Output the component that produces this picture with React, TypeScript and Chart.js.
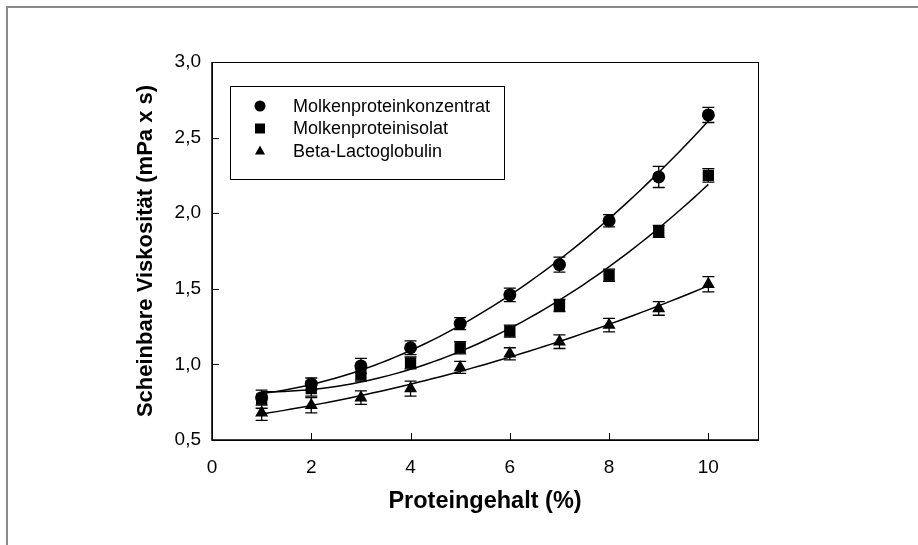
import React, { useEffect, useRef } from "react";
import { Chart, registerables } from "chart.js";

Chart.register(...registerables);

const xValues = [1, 2, 3, 4, 5, 6, 7, 8, 9, 10];
const wpcValues = [0.78, 0.87, 0.99, 1.11, 1.27, 1.46, 1.66, 1.95, 2.24, 2.65];
const wpcErrors = [0.05, 0.04, 0.05, 0.045, 0.04, 0.045, 0.05, 0.04, 0.07, 0.05];
const wpiValues = [0.77, 0.84, 0.93, 1.01, 1.11, 1.22, 1.39, 1.59, 1.88, 2.25];
const wpiErrors = [0.06, 0.05, 0.04, 0.04, 0.04, 0.04, 0.04, 0.04, 0.04, 0.045];
const blgValues = [0.68, 0.73, 0.78, 0.84, 0.98, 1.07, 1.15, 1.26, 1.37, 1.53];
const blgErrors = [0.05, 0.05, 0.045, 0.05, 0.04, 0.04, 0.045, 0.045, 0.045, 0.05];

const seriesNames = ["Molkenproteinkonzentrat", "Molkenproteinisolat", "Beta-Lactoglobulin"];
const seriesStyles = ["circle", "rect", "triangle"];

const xTickValues = [0, 2, 4, 6, 8, 10];
const xTickLabels = ["0", "2", "4", "6", "8", "10"];
const yTickValues = [0.5, 1.0, 1.5, 2.0, 2.5, 3.0];
const yTickLabels = ["0,5", "1,0", "1,5", "2,0", "2,5", "3,0"];

const xTitle = "Proteingehalt (%)";
const yTitle = "Scheinbare Viskosität (mPa x s)";

const FONT = "'Liberation Sans', Arial, sans-serif";

// least-squares quadratic regression of the measured points
function quadFit(xs: number[], ys: number[]) {
  let s0 = 0, s1 = 0, s2 = 0, s3 = 0, s4 = 0, t0 = 0, t1 = 0, t2 = 0;
  for (let i = 0; i < xs.length; i++) {
    const x = xs[i], y = ys[i];
    s0 += 1; s1 += x; s2 += x * x; s3 += x * x * x; s4 += x * x * x * x;
    t0 += y; t1 += x * y; t2 += x * x * y;
  }
  const M = [
    [s0, s1, s2, t0],
    [s1, s2, s3, t1],
    [s2, s3, s4, t2],
  ];
  for (let c = 0; c < 3; c++) {
    for (let r = c + 1; r < 3; r++) {
      const f = M[r][c] / M[c][c];
      for (let k = c; k < 4; k++) M[r][k] -= f * M[c][k];
    }
  }
  const coef = [0, 0, 0];
  for (let r = 2; r >= 0; r--) {
    let s = M[r][3];
    for (let k = r + 1; k < 3; k++) s -= M[r][k] * coef[k];
    coef[r] = s / M[r][r];
  }
  const pts: { x: number; y: number }[] = [];
  const x0 = xs[0], x1 = xs[xs.length - 1];
  const n = 60;
  for (let i = 0; i <= n; i++) {
    const x = x0 + ((x1 - x0) * i) / n;
    pts.push({ x, y: coef[0] + coef[1] * x + coef[2] * x * x });
  }
  return pts;
}

function drawMarker(ctx: CanvasRenderingContext2D, style: string, x: number, y: number, size: number) {
  ctx.beginPath();
  if (style === "circle") {
    ctx.arc(x, y, size / 2, 0, Math.PI * 2);
  } else if (style === "rect") {
    ctx.rect(x - size / 2, y - size / 2, size, size);
  } else {
    const h = size * 0.9;
    ctx.moveTo(x, y - h * 0.6);
    ctx.lineTo(x + size / 2, y + h * 0.4);
    ctx.lineTo(x - size / 2, y + h * 0.4);
    ctx.closePath();
  }
  ctx.fill();
}

const decorPlugin = {
  id: "decor",
  beforeDraw(chart: any) {
    const ctx = chart.ctx;
    ctx.save();
    ctx.fillStyle = "#ffffff";
    ctx.fillRect(0, 0, chart.width, chart.height);
    ctx.strokeStyle = "#8a8a8a";
    ctx.lineWidth = 2;
    ctx.beginPath();
    ctx.moveTo(7, chart.height);
    ctx.lineTo(7, 7);
    ctx.lineTo(chart.width, 7);
    ctx.stroke();
    ctx.restore();
  },
  afterDraw(chart: any) {
    const ctx = chart.ctx;
    const a = chart.chartArea;
    const xs = chart.scales.x;
    const ys = chart.scales.y;
    ctx.save();
    // frame
    ctx.strokeStyle = "#000";
    ctx.lineWidth = 1;
    ctx.strokeRect(a.left + 0.5, a.top + 0.5, a.right - a.left, a.bottom - a.top);
    ctx.lineWidth = 1.5;
    ctx.beginPath();
    ctx.moveTo(a.left, a.top);
    ctx.lineTo(a.left, a.bottom);
    ctx.lineTo(a.right, a.bottom);
    ctx.stroke();
    // inward ticks
    ctx.lineWidth = 1;
    ctx.beginPath();
    xTickValues.forEach((v) => {
      const px = Math.round(xs.getPixelForValue(v)) + 0.5;
      ctx.moveTo(px, a.bottom);
      ctx.lineTo(px, a.bottom - 7);
    });
    yTickValues.forEach((v) => {
      const py = Math.round(ys.getPixelForValue(v)) + 0.5;
      ctx.moveTo(a.left, py);
      ctx.lineTo(a.left + 7, py);
    });
    ctx.stroke();

    // error bars
    const groups = [
      [wpcValues, wpcErrors],
      [wpiValues, wpiErrors],
      [blgValues, blgErrors],
    ];
    ctx.lineWidth = 1.3;
    ctx.beginPath();
    groups.forEach(([vals, errs]) => {
      xValues.forEach((xv, i) => {
        const px = xs.getPixelForValue(xv);
        const top = ys.getPixelForValue(vals[i] + errs[i]);
        const bot = ys.getPixelForValue(vals[i] - errs[i]);
        ctx.moveTo(px, top);
        ctx.lineTo(px, bot);
        ctx.moveTo(px - 6, top);
        ctx.lineTo(px + 6, top);
        ctx.moveTo(px - 6, bot);
        ctx.lineTo(px + 6, bot);
      });
    });
    ctx.stroke();

    // legend
    const lx = a.left + 18;
    const ly = a.top + 24;
    const lw = 274;
    const lh = 93;
    ctx.fillStyle = "#fff";
    ctx.fillRect(lx, ly, lw, lh);
    ctx.strokeStyle = "#000";
    ctx.lineWidth = 1;
    ctx.strokeRect(lx + 0.5, ly + 0.5, lw, lh);
    ctx.font = `18px ${FONT}`;
    ctx.textBaseline = "middle";
    ctx.textAlign = "left";
    seriesNames.forEach((name, i) => {
      const ry = ly + 20 + i * 22.5;
      ctx.fillStyle = "#000";
      drawMarker(ctx, seriesStyles[i], lx + 30, ry, i === 0 ? 11 : 10);
      ctx.fillText(name, lx + 63, ry + 1);
    });
    ctx.restore();
  },
};

export default function App() {
  const ref = useRef<HTMLCanvasElement | null>(null);
  useEffect(() => {
    if (!ref.current) return;
    const valueSets = [wpcValues, wpiValues, blgValues];
    const datasets: any[] = [];
    valueSets.forEach((vals, i) => {
      datasets.push({
        label: seriesNames[i] + " Fit",
        data: quadFit(xValues, vals),
        showLine: true,
        borderColor: "#000",
        borderWidth: 1.5,
        pointRadius: 0,
        tension: 0,
        order: 2,
      });
    });
    valueSets.forEach((vals, i) => {
      datasets.push({
        label: seriesNames[i],
        data: xValues.map((x, j) => ({ x, y: vals[j] })),
        showLine: false,
        pointStyle: seriesStyles[i],
        pointRadius: i === 0 ? 6.5 : i === 1 ? 8 : 7.5,
        backgroundColor: "#000",
        borderColor: "#000",
        borderWidth: 0,
        order: 1,
      });
    });
    const chart = new Chart(ref.current, {
      type: "scatter",
      data: { datasets },
      options: {
        responsive: false,
        animation: false,
        layout: { padding: { left: 0, top: 62, right: 160, bottom: 0 } },
        plugins: { legend: { display: false }, tooltip: { enabled: false } },
        scales: {
          x: {
            type: "linear",
            min: 0,
            max: 11,
            grid: { display: false, drawTicks: false },
            border: { display: false },
            afterBuildTicks: (axis: any) => {
              axis.ticks = xTickValues.map((v) => ({ value: v }));
            },
            afterFit: (axis: any) => {
              axis.height = 105;
            },
            ticks: {
              color: "#000",
              font: { family: FONT, size: 19 },
              padding: 16,
              maxRotation: 0,
              autoSkip: false,
              callback: (v: any) => {
                const i = xTickValues.indexOf(Number(v));
                return i >= 0 ? xTickLabels[i] : "";
              },
            },
            title: {
              display: true,
              text: xTitle,
              color: "#000",
              font: { family: FONT, size: 23.5, weight: "bold" },
              padding: { top: 0, bottom: 29 },
            },
          },
          y: {
            type: "linear",
            min: 0.5,
            max: 3.0,
            grid: { display: false, drawTicks: false },
            border: { display: false },
            afterBuildTicks: (axis: any) => {
              axis.ticks = yTickValues.map((v) => ({ value: v }));
            },
            afterFit: (axis: any) => {
              axis.width = 212;
            },
            ticks: {
              color: "#000",
              font: { family: FONT, size: 19 },
              padding: 11,
              autoSkip: false,
              callback: (v: any) => {
                const i = yTickValues.findIndex((t) => Math.abs(t - Number(v)) < 1e-6);
                return i >= 0 ? yTickLabels[i] : "";
              },
            },
            title: {
              display: true,
              text: yTitle,
              color: "#000",
              font: { family: FONT, size: 22, weight: "bold" },
              padding: { top: 133, bottom: 0 },
            },
          },
        },
      },
      plugins: [decorPlugin],
    } as any);
    return () => chart.destroy();
  }, []);
  return (
    <div style={{ position: "absolute", left: 0, top: 0, width: 918, height: 545 }}>
      <canvas ref={ref} width={918} height={545} style={{ display: "block", width: 918, height: 545 }} />
    </div>
  );
}
